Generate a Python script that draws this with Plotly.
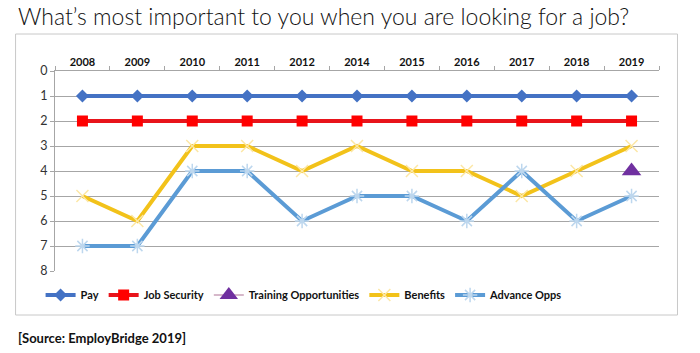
import plotly.graph_objects as go

years = ["2008", "2009", "2010", "2011", "2012", "2014", "2015", "2016", "2017", "2018", "2019"]
pay = [1, 1, 1, 1, 1, 1, 1, 1, 1, 1, 1]
job_security = [2, 2, 2, 2, 2, 2, 2, 2, 2, 2, 2]
training = [None, None, None, None, None, None, None, None, None, None, 4]
benefits = [5, 6, 3, 3, 4, 3, 4, 4, 5, 4, 3]
advance = [7, 7, 4, 4, 6, 5, 5, 6, 4, 6, 5]
y_ticks = [0, 1, 2, 3, 4, 5, 6, 7, 8]

W, H = 700, 353
L, R, T, B = 54.5, 659.5, 71, 271
pw, ph = R - L, B - T

def px(x):
    return (x - L) / pw

def py(y):
    return (B - y) / ph

fig = go.Figure()
fig.add_trace(go.Scatter(x=years, y=pay, name="Pay", mode="lines+markers",
                         line=dict(color="#4472C4", width=4),
                         marker=dict(symbol="diamond", size=10, color="#4472C4")))
fig.add_trace(go.Scatter(x=years, y=job_security, name="Job Security", mode="lines+markers",
                         line=dict(color="#E8141B", width=4),
                         marker=dict(symbol="square", size=11, color="#FF0000")))
fig.add_trace(go.Scatter(x=years, y=training, name="Training Opportunities", mode="lines+markers",
                         line=dict(color="#C9A0B8", width=1.5),
                         marker=dict(symbol="triangle-up", size=17, color="#7030A0")))
fig.add_trace(go.Scatter(x=years, y=benefits, name="Benefits", mode="lines+markers",
                         line=dict(color="#F2C21A", width=4),
                         marker=dict(symbol="x-thin-open", size=12, color="#FCE7A6",
                                     line=dict(width=1.5, color="#FCE7A6"))))
fig.add_trace(go.Scatter(x=years, y=advance, name="Advance Opps", mode="lines+markers",
                         line=dict(color="#5B9BD5", width=4),
                         marker=dict(symbol="asterisk-open", size=12, color="#BDD7EE",
                                     line=dict(width=1.5, color="#BDD7EE"))))

fig.update_layout(
    width=W, height=H,
    margin=dict(l=L, r=W - R, t=T, b=H - B, pad=0),
    paper_bgcolor="white", plot_bgcolor="white",
    font=dict(family="Lato", color="#222222"),
    showlegend=True,
    legend=dict(orientation="h", x=px(304), xanchor="center", y=py(295), yanchor="middle",
                font=dict(size=11, family="Lato", weight="bold", color="#111111"),
                bgcolor="rgba(0,0,0,0)", itemwidth=30, tracegroupgap=0),
    title=dict(text="What’s most important to you when you are looking for a job?",
               x=18 / W, xanchor="left", y=1 - 17 / H, yanchor="middle", yref="container",
               xref="container", font=dict(size=23, family="Lato", weight=300, color="#111111")),
)
fig.update_xaxes(type="category", side="top", range=[-0.5, 10.5], showgrid=False,
                 showline=True, linecolor="#A6A6A6", linewidth=1,
                 ticks="outside", tickson="boundaries", ticklen=4, tickcolor="#A6A6A6",
                 tickfont=dict(size=11, family="Lato", weight="bold", color="#111111"),
                 fixedrange=True)
fig.update_yaxes(range=[8, 0], tickvals=y_ticks, showgrid=True, gridcolor="#A6A6A6", gridwidth=1,
                 showline=True, linecolor="#A6A6A6", linewidth=1, zeroline=False,
                 ticks="outside", ticklen=4, tickcolor="#A6A6A6",
                 tickfont=dict(size=12.5, family="Lato", color="#333333"))

fig.add_shape(type="rect", xref="paper", yref="paper",
              x0=px(15), x1=px(678), y0=py(315), y1=py(34),
              line=dict(color="#C8C8C8", width=1), fillcolor="rgba(0,0,0,0)", layer="below")
fig.add_annotation(text="[Source: EmployBridge 2019]", xref="paper", yref="paper",
                   x=px(15), y=py(338), xanchor="left", yanchor="middle", showarrow=False,
                   font=dict(size=13, family="Lato", weight="bold", color="#111111"))

fig.write_html("out.html")
